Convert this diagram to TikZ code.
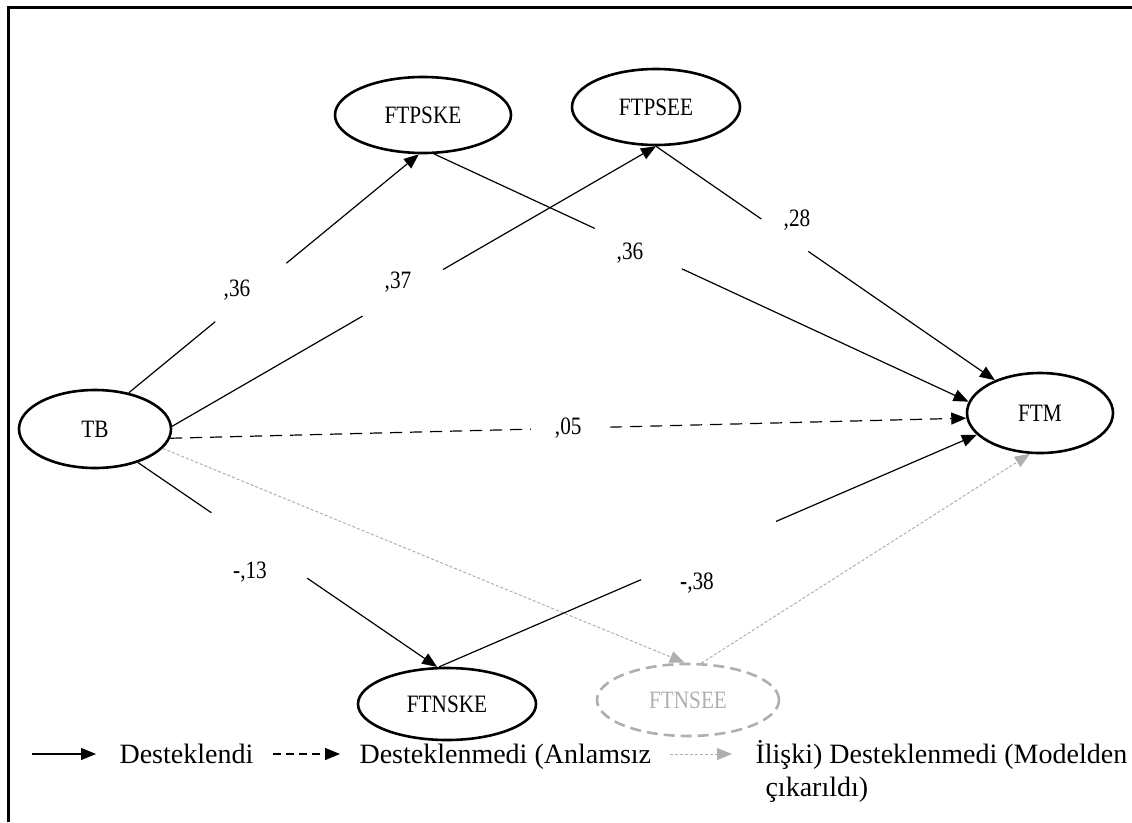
\documentclass[tikz,border=0pt]{standalone}
\usepackage{fontspec}
\setmainfont{Liberation Serif}
\newfontfamily\narrowfont[FakeStretch=0.85]{Liberation Serif}
\usetikzlibrary{arrows.meta,shapes.geometric}
\definecolor{gry}{RGB}{175,175,175}

\begin{document}
\begin{tikzpicture}[x=1pt,y=-1pt,
  lv/.style={ellipse,draw,line width=2.6pt,inner sep=0pt,minimum width=#1,minimum height=76pt,font=\narrowfont\fontsize{25}{28}\selectfont},
  lv/.default=170pt,
  gone/.style={lv=#1,draw=gry,text=gry,dash pattern=on 11pt off 6pt},
  eff/.style={line width=1.2pt,-{Triangle[length=15pt,width=12pt]}},
  gapat/.style 2 args={dash pattern=on #1 off #2 on 2000pt},
  nsig/.style={eff,dash pattern=on 12pt off 8pt},
  drop/.style={line width=1pt,draw=gry,dash pattern=on 3pt off 2pt,-{Triangle[length=15pt,width=12pt,fill=gry]}},
  coef/.style={font=\narrowfont\fontsize{25}{28}\selectfont},
  key/.style={anchor=base west,font=\fontsize{28}{32}\selectfont}]
\useasboundingbox (0,0) rectangle (1132,822);
\draw[line width=3pt] (8,822) -- (8,7) -- (1132,7);

\node[lv=176pt] (FTPSKE) at (423,115) {FTPSKE};
\node[lv=168pt] (FTPSEE) at (656,107) {FTPSEE};
\node[lv=152pt,minimum height=78pt] (TB) at (95,429) {TB};
\node[lv=146pt,minimum height=80pt] (FTM) at (1040,413) {FTM};
\node[lv=178pt,minimum height=72pt] (FTNSKE) at (447,704) {FTNSKE};
\node[gone=182pt,minimum height=72pt] (FTNSEE) at (688,700) {FTNSEE};

\draw[eff,gapat={112pt}{92pt}] (TB.47) -- (FTPSKE.-96);
\draw[eff,gapat={220pt}{93pt}] (TB.2) -- (FTPSEE.-90);
\draw[eff,gapat={177pt}{96pt}] (FTPSKE.-74) -- (FTM.171);
\draw[eff,gapat={128pt}{57pt}] (FTPSEE.-90) -- (FTM.144);
\draw[nsig] (TB.-7) -- node[coef,fill=white,inner xsep=24pt] {,05} (FTM.184);
\draw[drop] (TB.-16) -- (FTNSEE.95);
\draw[drop] (FTNSEE.70) -- (FTM.-104);
\draw[eff,gapat={89pt}{116pt}] (TB.-38) -- (FTNSKE.105);
\draw[eff,gapat={220pt}{147pt}] (FTNSKE.102) -- (FTM.199);

\node[coef] at (237,290) {,36};
\node[coef] at (398,282) {,37};
\node[coef] at (630,253) {,36};
\node[coef] at (797,220) {,28};
\node[coef] at (250,572) {-,13};
\node[coef] at (697,583) {\textbf{-},38};

\draw[eff] (32,754) -- (96,754);
\node[key] (sup) at (116,763) {Desteklendi};
\draw[eff,dash pattern=on 8pt off 5pt] (273,754) -- (340,754);
\node[key] (nsup) at (356,763) {Desteklenmedi (Anlamsız};
\draw[drop] (670,754) -- (732,754);
\node[key] (drp) at (752,763) {İlişki) Desteklenmedi (Modelden};
\node[key] (drp2) at (762,796) {çıkarıldı)};
\end{tikzpicture}
\end{document}
